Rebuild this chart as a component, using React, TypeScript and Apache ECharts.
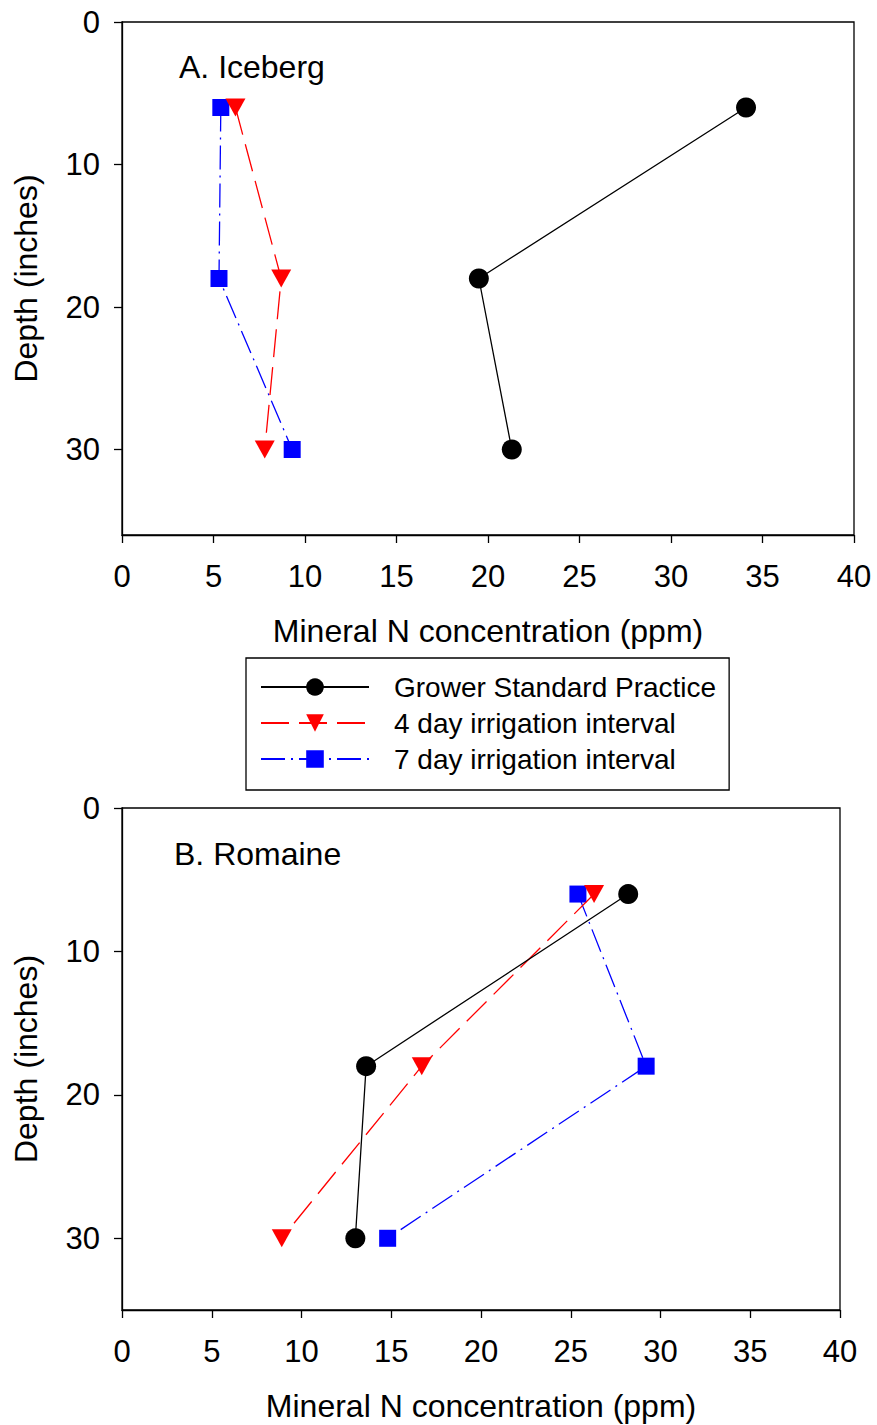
import React, { useEffect, useRef } from "react";
import * as echarts from "echarts";

const seriesNames = [
  "Grower Standard Practice",
  "4 day irrigation interval",
  "7 day irrigation interval",
];
const depths = [6, 18, 30];

// Panel A: Iceberg (mineral N ppm at each depth)
const icebergGrower = [34.1, 19.5, 21.3];
const iceberg4day = [6.2, 8.7, 7.8];
const iceberg7day = [5.4, 5.3, 9.3];

// Panel B: Romaine
const romaineGrower = [28.2, 13.6, 13.0];
const romaine4day = [26.3, 16.7, 8.9];
const romaine7day = [25.4, 29.2, 14.8];

const yTicks = [0, 10, 20, 30];

const FONT = "Liberation Sans, Arial, Helvetica, sans-serif";

const styles = [
  { color: "#000000", symbol: "circle", size: 20 as any, dash: "solid" as any },
  { color: "#ff0000", symbol: "path://M0,0 L10,0 L5,9 Z", size: [20, 18] as any, dash: [28, 10] as any },
  { color: "#0000ff", symbol: "rect", size: 17 as any, dash: [24, 6, 2, 6] as any },
];

function pts(xs: number[]) {
  return xs.map((x, i) => [x, depths[i]]);
}

export default function App() {
  const ref = useRef<HTMLDivElement>(null);
  useEffect(() => {
    if (!ref.current) return;
    const chart = echarts.init(ref.current, undefined, { renderer: "svg" });
    const axisCommon = {
      axisLine: { show: true, onZero: false, lineStyle: { color: "#000", width: 1.3 } },
      axisTick: { show: true, inside: false, length: 8, lineStyle: { color: "#000", width: 1.3 } },
      splitLine: { show: false },
    };
    const xAxis = (gridIndex: number, margin: number) => ({
      type: "value",
      gridIndex,
      position: "bottom",
      min: 0,
      max: 40,
      interval: 5,
      ...axisCommon,
      axisLabel: { margin, fontSize: 31, color: "#000", fontFamily: FONT },
      name: "Mineral N concentration (ppm)",
      nameLocation: "middle",
      nameGap: 80,
      nameTextStyle: { fontSize: 32, color: "#000", fontFamily: FONT },
    });
    const yAxis = (gridIndex: number, max: number) => ({
      type: "value",
      gridIndex,
      position: "left",
      inverse: true,
      min: 0,
      max,
      interval: 10,
      ...axisCommon,
      axisTick: { ...axisCommon.axisTick, customValues: yTicks },
      axisLabel: { margin: 22, fontSize: 31, color: "#000", fontFamily: FONT, customValues: yTicks },
      name: "Depth (inches)",
      nameLocation: "middle",
      nameGap: 80,
      nameRotate: 90,
      nameTextStyle: { fontSize: 32, color: "#000", fontFamily: FONT },
    });
    const mk = (data: number[], idx: number, axisIdx: number) => ({
      type: "line",
      name: seriesNames[idx],
      xAxisIndex: axisIdx,
      yAxisIndex: axisIdx,
      data: pts(data),
      symbol: styles[idx].symbol,
      symbolSize: styles[idx].size,
      showSymbol: true,
      itemStyle: { color: styles[idx].color },
      lineStyle: { color: styles[idx].color, width: 1.3, type: styles[idx].dash },
      z: 3 - idx,
    });
    chart.setOption({
      animation: false,
      backgroundColor: "#fff",
      title: [
        { text: "A. Iceberg", left: 179, top: 51, padding: 0, textStyle: { fontSize: 32, fontWeight: "normal", color: "#000", fontFamily: FONT } },
        { text: "B. Romaine", left: 174, top: 838, padding: 0, textStyle: { fontSize: 32, fontWeight: "normal", color: "#000", fontFamily: FONT } },
      ],
      legend: {
        data: seriesNames,
        orient: "vertical",
        left: 246,
        top: 658,
        padding: [15, 13, 17, 14],
        itemWidth: 108,
        itemHeight: 22,
        itemGap: 8,
        borderColor: "#000",
        borderWidth: 1.3,
        borderRadius: 0,
        textStyle: { fontSize: 28, color: "#000", fontFamily: FONT, padding: [0, 0, 0, 20] },
      },
      grid: [
        { left: 122, top: 22, width: 732, height: 513, show: true, borderColor: "#000", borderWidth: 1.3, containLabel: false, outerBoundsMode: "none" },
        { left: 122, top: 808, width: 718, height: 502, show: true, borderColor: "#000", borderWidth: 1.3, containLabel: false, outerBoundsMode: "none" },
      ],
      xAxis: [xAxis(0, 26), xAxis(1, 26)],
      yAxis: [yAxis(0, 36), yAxis(1, 35)],
      series: [
        mk(icebergGrower, 0, 0),
        mk(iceberg4day, 1, 0),
        mk(iceberg7day, 2, 0),
        mk(romaineGrower, 0, 1),
        mk(romaine4day, 1, 1),
        mk(romaine7day, 2, 1),
      ],
    });
    return () => chart.dispose();
  }, []);
  return (
    <div
      ref={ref}
      style={{ position: "absolute", left: 0, top: 0, width: 877, height: 1425 }}
    />
  );
}
